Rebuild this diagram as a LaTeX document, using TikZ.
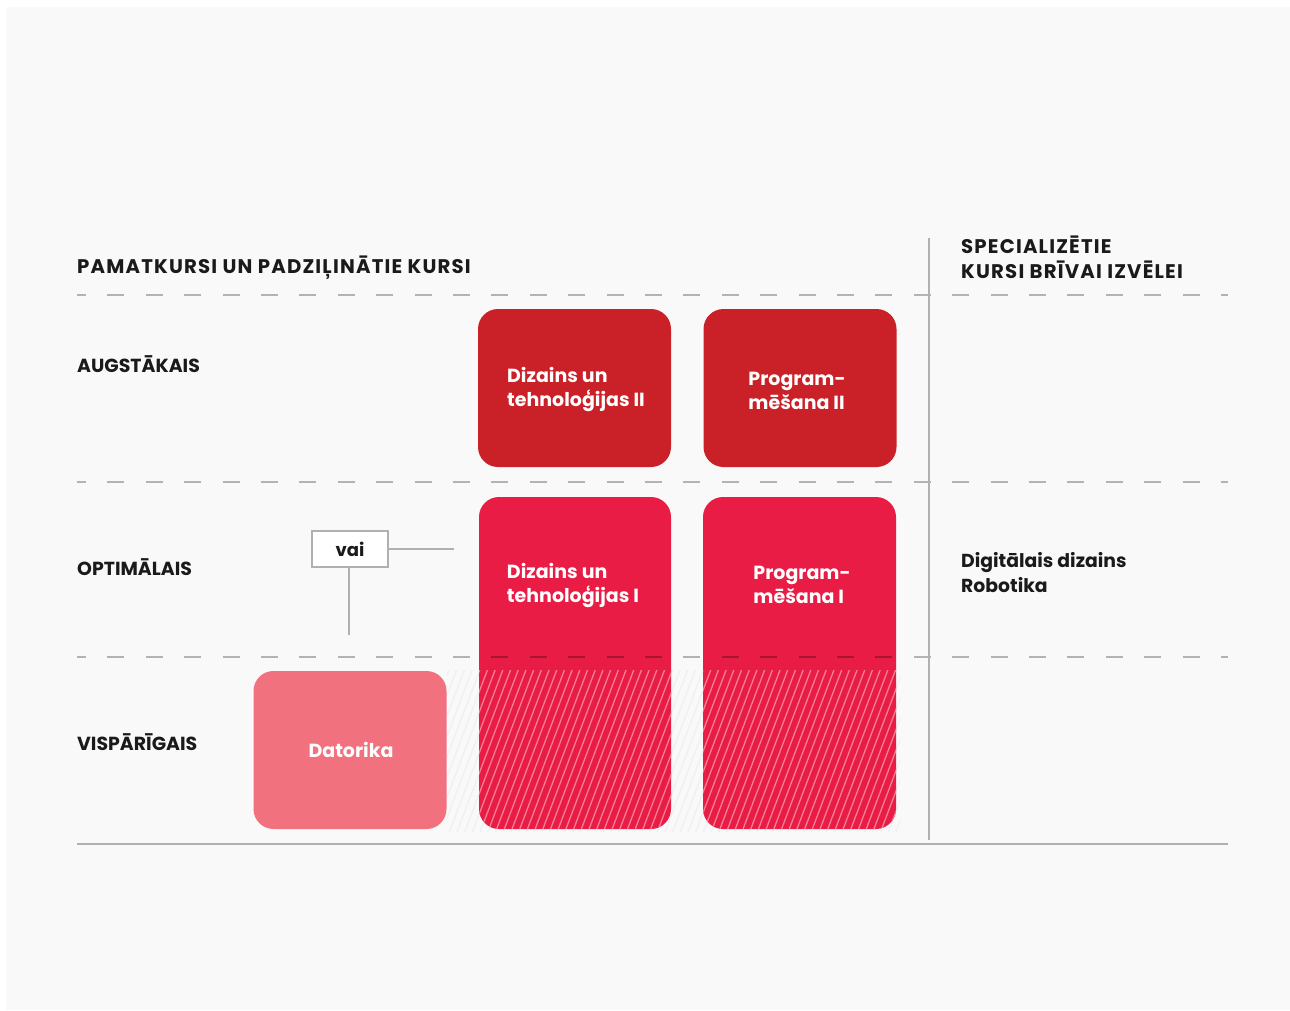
\documentclass[tikz,border=0pt]{standalone}
\usepackage{fontspec}
\setmainfont{Poppins}
\newfontfamily\hdrfont{Poppins}[LetterSpace=6]
\definecolor{bgc}{HTML}{F8F9F8}
\definecolor{darkred}{HTML}{CA2027}
\definecolor{brightred}{HTML}{E91C45}
\definecolor{pinkbox}{HTML}{F2717E}
\definecolor{hatchpink}{HTML}{F47F97}
\definecolor{linegray}{HTML}{B0B0B0}
\definecolor{txt}{HTML}{1A1A1A}
\begin{document}
\begin{tikzpicture}[x=1pt,y=-1pt,
  gridline/.style={linegray,line width=2pt},
  dashline/.style={black,opacity=0.28,line width=2pt,dash pattern=on 17pt off 21.4pt,dash phase=8pt},
  course/.style={rounded corners=20pt,minimum width=193pt,inner sep=0pt,outer sep=0pt},
  ctext/.style={white,font=\fontsize{19}{24}\selectfont\bfseries,align=left},
  rowlabel/.style={text=txt,anchor=west,font=\fontsize{18.9}{22}\selectfont\bfseries,inner sep=0pt},
  hdr/.style={text=txt,anchor=west,align=left,font=\hdrfont\fontsize{19.7}{25}\selectfont\bfseries,inner sep=0pt},
  side/.style={text=txt,anchor=west,align=left,font=\fontsize{18.8}{25}\selectfont\bfseries,inner sep=0pt}]
\useasboundingbox (0,0) rectangle (1290,1010);
\fill[white] (0,0) rectangle (1290,1010);
\fill[bgc] (6,7) rectangle (1290,1010);
% faint hatching band
\begin{scope}
  \clip (447,670) rectangle (900,831);
  \foreach \x in {300,307.7,...,940} \draw[black!6,line width=1.3pt] (\x,840) -- (\x+68,660);
\end{scope}
% boxes
\node[course,fill=darkred,minimum height=158pt] (d2) at (574.5,388) {};
\node[course,fill=darkred,minimum height=158pt] (p2) at (800,388) {};
\node[course,fill=brightred,minimum height=332pt,minimum width=192pt] (d1) at (575,663) {};
\node[course,fill=brightred,minimum height=332pt] (p1) at (799.5,663) {};
\node[course,fill=pinkbox,minimum height=158pt] (dat) at (350,750) {};
% pink hatching inside lower boxes
\foreach \b in {d1,p1}{
\begin{scope}
  \clip (400,670) rectangle (920,840);
  \clip[rounded corners=20pt] (\b.north west) rectangle (\b.south east);
  \foreach \x in {300,307.7,...,940} \draw[hatchpink,line width=1.3pt] (\x,840) -- (\x+68,660);
\end{scope}}
% texts in boxes
\node[ctext] (d2t) at (576,389) {Dizains un\\tehnoloģijas II};
\node[ctext] (p2t) at (797,391) {Program-\\mēšana II};
\node[ctext] (d1t) at (573,585) {Dizains un\\tehnoloģijas I};
\node[ctext] (p1t) at (802,585) {Program-\\mēšana I};
\node[ctext] (datt) at (351,750) {Datorika};
% grid lines
\draw[dashline] (77,295) -- (1228,295);
\draw[dashline] (77,482) -- (1228,482);
\draw[dashline] (77,657) -- (1228,657);
\draw[gridline] (77,844) -- (1228,844);
\draw[gridline] (929,238) -- (929,840);
% headers
\node[hdr] (h1) at (77,268) {PAMATKURSI UN PADZIĻINĀTIE KURSI};
\node[hdr] (h2) at (961,257) {SPECIALIZĒTIE\\KURSI BRĪVAI IZVĒLEI};
% row labels
\node[rowlabel] (r1) at (77,364) {AUGSTĀKAIS};
\node[rowlabel] (r2) at (77,567) {OPTIMĀLAIS};
\node[rowlabel] (r3) at (77,742) {VISPĀRĪGAIS};
\node[side] (s1) at (961,573) {Digitālais dizains\\Robotika};
% vai
\coordinate (vaiE) at (454,549);
\coordinate (vaiS) at (349,635);
\node[draw=linegray,line width=1.5pt,fill=white,minimum width=76pt,minimum height=36pt,inner sep=0pt,text=txt,font=\fontsize{18}{22}\selectfont\bfseries] (vai) at (350,549) {vai};
\draw[gridline,line width=1.5pt] (vai.east) -- (vaiE);
\draw[gridline,line width=1.5pt] (vai.south -| vaiS) -- (vaiS);
\end{tikzpicture}
\end{document}
